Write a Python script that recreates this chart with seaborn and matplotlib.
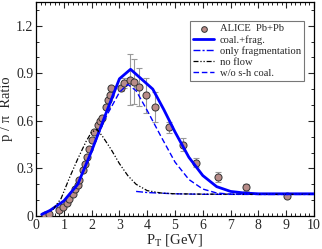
import numpy as np
import pandas as pd
import seaborn as sns
import matplotlib
matplotlib.use("Agg")
import matplotlib.pyplot as plt
from matplotlib.ticker import MultipleLocator, AutoMinorLocator

# ALICE Pb+Pb data
alice_pt = [0.32, 0.48, 0.81, 0.96, 1.1, 1.2, 1.32, 1.41, 1.5, 1.56, 1.68, 1.75, 1.82,
            1.92, 2.03, 2.1, 2.24, 2.3, 2.36, 2.52, 2.6, 2.66, 2.7, 3.05, 3.17, 3.38,
            3.52, 3.72, 3.94, 4.28, 4.78, 5.3, 5.74, 6.56, 7.55, 9.04]
alice_ratio = [0.006, 0.012, 0.036, 0.057, 0.084, 0.105, 0.137, 0.173, 0.196, 0.226, 0.29,
               0.33, 0.37, 0.42, 0.48, 0.53, 0.576, 0.60, 0.62, 0.69, 0.73, 0.763, 0.81,
               0.807, 0.837, 0.86, 0.847, 0.816, 0.76, 0.685, 0.56, 0.45, 0.337, 0.247,
               0.18, 0.127]
alice_err = [0, 0, 0, 0, 0, 0, 0, 0, 0, 0, 0, 0, 0, 0, 0, 0, 0, 0, 0, 0, 0, 0, 0,
             0.02, 0.03, 0.16, 0.14, 0.12, 0.11, 0.095, 0.035, 0.04, 0.03, 0.03, 0.02, 0.01]

# model curves
coal_pt = [0.2, 0.5, 1.0, 1.5, 2.0, 2.5, 3.0, 3.4, 4.2, 4.6, 5.0, 5.5, 6.0, 6.5, 7.0, 7.5, 8.0, 9.0, 10.0]
coal_ratio = [0.01, 0.035, 0.095, 0.2, 0.41, 0.64, 0.865, 0.925, 0.80, 0.67, 0.53, 0.37,
              0.255, 0.185, 0.155, 0.145, 0.14, 0.14, 0.14]

frag_pt = [3.6, 4.0, 5.0, 6.0, 8.0, 10.0]
frag_ratio = [0.155, 0.148, 0.14, 0.137, 0.136, 0.136]

noflow_pt = [0.6, 0.9, 1.2, 1.5, 1.8, 2.0, 2.2, 2.4, 2.7, 3.0, 3.3, 3.6, 4.0, 4.5, 5.0, 6.0, 8.0, 10.0]
noflow_ratio = [0.04, 0.11, 0.24, 0.36, 0.47, 0.53, 0.545, 0.50, 0.42, 0.33, 0.255, 0.2,
                0.16, 0.145, 0.14, 0.138, 0.137, 0.137]

wo_pt = [0.2, 0.5, 1.0, 1.5, 2.0, 2.5, 3.0, 3.3, 3.6, 4.0, 4.5, 5.0, 5.5, 6.0, 6.5, 7.0, 8.0, 10.0]
wo_ratio = [0.01, 0.035, 0.095, 0.2, 0.41, 0.62, 0.78, 0.83, 0.79, 0.665, 0.5, 0.34, 0.23,
            0.17, 0.145, 0.138, 0.137, 0.137]

sns.set_style("ticks")
plt.rcParams["font.family"] = ["Liberation Serif", "DejaVu Serif"]
plt.rcParams["mathtext.fontset"] = "stix"

fig = plt.figure(figsize=(3.22, 2.49), dpi=100)
ax = fig.add_axes([0.112, 0.1325, 0.863, 0.86])

blue = "#0000ff"
df_coal = pd.DataFrame({"pt": coal_pt, "r": coal_ratio})
df_frag = pd.DataFrame({"pt": frag_pt, "r": frag_ratio})
df_noflow = pd.DataFrame({"pt": noflow_pt, "r": noflow_ratio})
df_wo = pd.DataFrame({"pt": wo_pt, "r": wo_ratio})
df_alice = pd.DataFrame({"pt": alice_pt, "r": alice_ratio, "err": alice_err})

# error bars then points
ax.errorbar(df_alice.pt, df_alice.r, yerr=df_alice.err, fmt="none", ecolor="#999999",
            elinewidth=0.8, capsize=2, capthick=0.8, zorder=2)
sns.scatterplot(data=df_alice, x="pt", y="r", ax=ax, s=26, color="#b88c88",
                edgecolor="#333333", linewidth=0.7, zorder=3, label="ALICE  Pb+Pb")

sns.lineplot(data=df_coal, x="pt", y="r", ax=ax, color=blue, lw=2, zorder=4,
             label="coal.+frag.")
sns.lineplot(data=df_frag, x="pt", y="r", ax=ax, color=blue, lw=1, zorder=4,
             label="only fragmentation", dashes=False)
ax.lines[-1].set_dashes([5, 1.5, 1.5, 1.5])
sns.lineplot(data=df_noflow, x="pt", y="r", ax=ax, color="black", lw=0.9, zorder=4,
             label="no flow")
ax.lines[-1].set_dashes([4, 1.5, 1, 1.5, 1, 1.5])
sns.lineplot(data=df_wo, x="pt", y="r", ax=ax, color=blue, lw=1, zorder=4,
             label="w/o s-h coal.")
ax.lines[-1].set_dashes([4, 2])

ax.set_xlim(0, 10)
ax.set_ylim(0, 1.35)
ax.xaxis.set_major_locator(MultipleLocator(1))
ax.xaxis.set_minor_locator(AutoMinorLocator(6))
ax.yaxis.set_major_locator(MultipleLocator(0.3))
ax.yaxis.set_minor_locator(AutoMinorLocator(3))
ax.yaxis.set_major_formatter(lambda v, p: "0" if abs(v) < 1e-9 else f"{v:.1f}")
ax.tick_params(which="both", direction="in", top=True, right=True, labelsize=10, pad=2)
ax.tick_params(which="major", length=4, width=0.8)
ax.tick_params(which="minor", length=2.5, width=0.7)
for s in ax.spines.values():
    s.set_linewidth(0.9)
    s.set_color("black")

ax.set_xlabel("P$_\\mathrm{T}$ [GeV]", fontsize=10.5, labelpad=0)
ax.set_ylabel("p / π  Ratio", fontsize=10.5, labelpad=2)

leg = ax.legend(loc="upper right", bbox_to_anchor=(0.964, 0.911), borderaxespad=0,
                fontsize=7.6, frameon=True, fancybox=False, handlelength=2.0,
                handletextpad=0.5, labelspacing=0.15, borderpad=0.3, markerscale=0.8)
leg.get_frame().set_edgecolor("#555555")
leg.get_frame().set_linewidth(0.8)

fig.savefig("out.png", dpi=100)
